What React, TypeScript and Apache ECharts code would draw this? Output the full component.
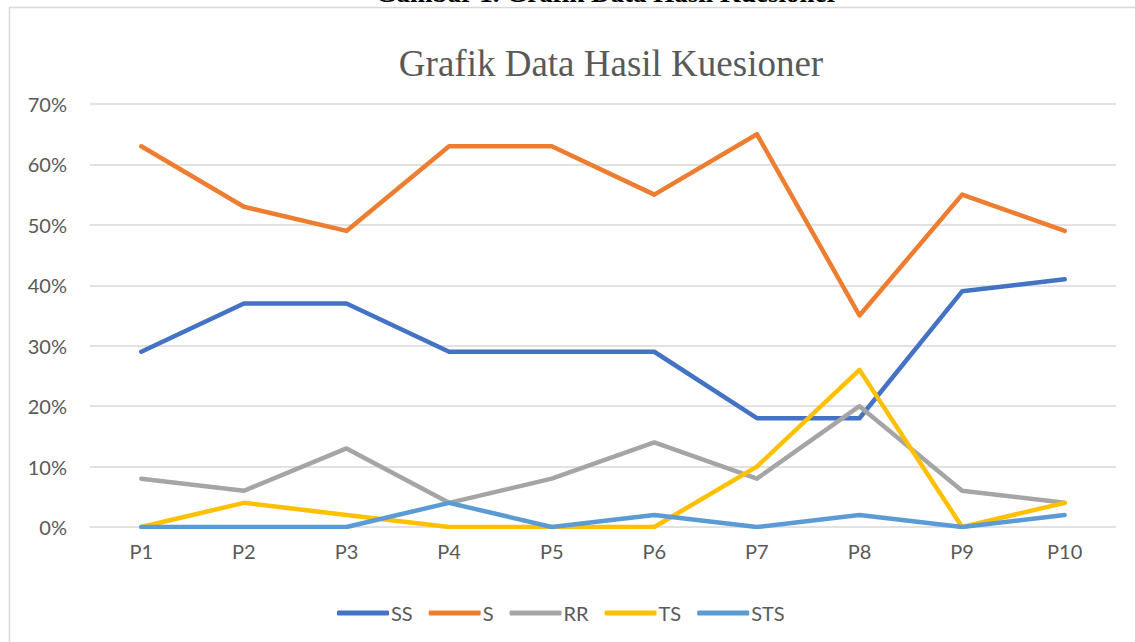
import React, { useEffect, useRef } from "react";
import * as echarts from "echarts";

const categories = ["P1", "P2", "P3", "P4", "P5", "P6", "P7", "P8", "P9", "P10"];
const seriesNames = ["SS", "S", "RR", "TS", "STS"];
const ssValues = [29, 37, 37, 29, 29, 29, 18, 18, 39, 41];
const sValues = [63, 53, 49, 63, 63, 55, 65, 35, 55, 49];
const rrValues = [8, 6, 13, 4, 8, 14, 8, 20, 6, 4];
const tsValues = [0, 4, 2, 0, 0, 0, 10, 26, 0, 4];
const stsValues = [0, 0, 0, 4, 0, 2, 0, 2, 0, 2];
const seriesColors = ["#4472C4", "#ED7D31", "#A5A5A5", "#FFC000", "#5B9BD5"];
const yTicks = [0, 10, 20, 30, 40, 50, 60, 70];

export default function App() {
  const ref = useRef<HTMLDivElement>(null);
  useEffect(() => {
    if (!ref.current) return;
    const chart = echarts.init(ref.current, undefined, { renderer: "svg" });
    const data = [ssValues, sValues, rrValues, tsValues, stsValues];
    const font = "Lato, 'Noto Sans', sans-serif";
    chart.setOption({
      animation: false,
      backgroundColor: "#ffffff",
      graphic: [
        {
          type: "rect",
          shape: { x: 9.5, y: 7.5, width: 1200, height: 700 },
          style: { fill: "none", stroke: "#D9D9D9", lineWidth: 1.5 },
          silent: true,
        },
        {
          type: "text",
          x: 607,
          y: 6,
          style: {
            text: "Gambar 1. Grafik Data Hasil Kuesioner",
            font: "bold 27px 'Liberation Serif', 'Times New Roman', serif",
            fill: "#000000",
            align: "center",
            verticalAlign: "bottom",
          },
        },
      ],
      title: {
        text: "Grafik Data Hasil Kuesioner",
        left: 606,
        textAlign: "center",
        top: 40,
        textStyle: {
          fontFamily: "'Liberation Serif', 'Times New Roman', serif",
          fontSize: 37,
          fontWeight: "normal",
          color: "#595959",
        },
      },
      legend: {
        data: seriesNames,
        left: 332,
        top: 598,
        icon: "roundRect",
        itemWidth: 52,
        itemHeight: 5,
        itemGap: 16,
        textStyle: { fontFamily: font, fontSize: 20, color: "#595959", padding: [0, 0, 0, -3] },
      },
      grid: { left: 90, right: 19, top: 104, bottom: 115 },
      xAxis: {
        type: "category",
        data: categories,
        boundaryGap: true,
        axisLine: { show: false },
        axisTick: { show: false },
        axisLabel: { fontFamily: font, fontSize: 20, color: "#595959", margin: 14 },
      },
      yAxis: {
        type: "value",
        min: yTicks[0],
        max: yTicks[yTicks.length - 1],
        interval: 10,
        axisLine: { show: false },
        axisTick: { show: false },
        splitLine: { lineStyle: { color: "#D9D9D9", width: 1.5 } },
        axisLabel: {
          fontFamily: font,
          fontSize: 20,
          color: "#595959",
          margin: 23,
          formatter: (v: number) => `${v}%`,
        },
      },
      series: seriesNames.map((name, i) => ({
        name,
        type: "line",
        data: data[i],
        symbol: "none",
        lineStyle: { color: seriesColors[i], width: 4.5, cap: "round", join: "round" },
        itemStyle: { color: seriesColors[i] },
      })),
    });
    return () => chart.dispose();
  }, []);
  return (
    <div
      ref={ref}
      style={{ position: "fixed", left: 0, top: 0, width: 1135, height: 642 }}
    />
  );
}
